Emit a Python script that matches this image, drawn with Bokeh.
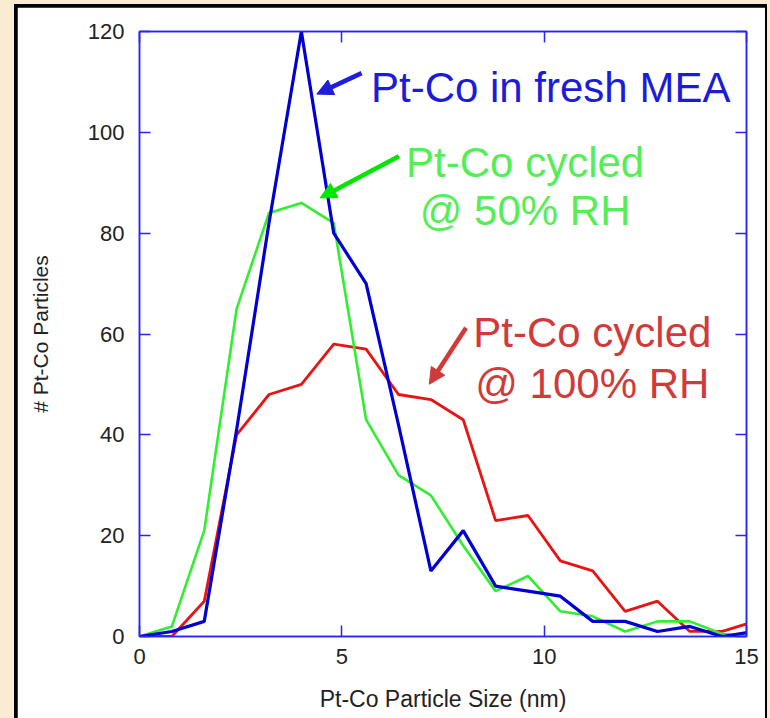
from bokeh.plotting import figure
from bokeh.layouts import column
from bokeh.models import (Range1d, LinearAxis, FixedTicker, Label, Arrow,
                          NormalHead)
from bokeh.embed import file_html
from bokeh.resources import INLINE

# ---- data ----
sizes = [0, 0.8, 1.6, 2.4, 3.2, 4.0, 4.8, 5.6, 6.4, 7.2, 8.0, 8.8, 9.6,
         10.4, 11.2, 12.0, 12.8, 13.6, 14.4, 15.2]
fresh = [0, 1, 3, 41, 82, 120, 80, 70, 42, 13, 21, 10, 9, 8, 3, 3, 1, 2, 0, 1]
rh50 = [0, 2, 21, 65, 84, 86, 82, 43, 32, 28, 18, 9, 12, 5, 4, 1, 3, 3, 0.5, 0]
rh100 = [0, 0, 7, 40, 48, 50, 58, 57, 48, 47, 43, 23, 24, 15, 13, 5, 7, 1, 1, 3]

x_ticks = [0, 5, 10, 15]
y_ticks = [0, 20, 40, 60, 80, 100, 120]

x_label = "Pt-Co Particle Size (nm)"
y_label = "# Pt-Co Particles"

FONT = "Liberation Sans"
FRAME = "#2626EE"
BEIGE = "#F9ECD3"

p = figure(width=748, height=711, output_backend="svg", toolbar_location=None,
           x_range=Range1d(0, 15), y_range=Range1d(0, 120),
           min_border_left=122, min_border_right=19, min_border_top=24,
           min_border_bottom=82, x_axis_label=x_label, y_axis_label=y_label)

p.border_fill_color = "white"
p.background_fill_color = "white"
p.outline_line_color = FRAME
p.outline_line_width = 1.5
p.xgrid.visible = False
p.ygrid.visible = False


def style_axis(ax, ticks, labels=True):
    ax.ticker = FixedTicker(ticks=ticks)
    ax.axis_line_color = FRAME
    ax.axis_line_width = 1.5
    ax.major_tick_line_color = FRAME
    ax.major_tick_line_width = 1.5
    ax.major_tick_in = 11
    ax.major_tick_out = 0
    ax.minor_tick_line_color = None
    ax.major_label_text_font = FONT
    ax.axis_label_text_font = FONT
    ax.axis_label_text_font_style = "normal"
    ax.axis_label_text_color = "#222222"
    if labels:
        ax.major_label_text_font_size = "22px"
        ax.major_label_text_color = "#222222"
    else:
        ax.major_label_text_font_size = "0px"
        ax.major_label_text_color = None
        ax.major_label_standoff = 0


style_axis(p.xaxis[0], x_ticks)
p.xaxis[0].major_label_standoff = 12
p.xaxis[0].axis_label_standoff = 19
p.xaxis[0].axis_label_text_font_size = "23px"

style_axis(p.yaxis[0], y_ticks)
p.yaxis[0].major_label_standoff = 15
p.yaxis[0].axis_label_standoff = 33
p.yaxis[0].axis_label_text_font_size = "21px"

top_ax = LinearAxis()
style_axis(top_ax, x_ticks, labels=False)
p.add_layout(top_ax, "above")
right_ax = LinearAxis()
style_axis(right_ax, y_ticks, labels=False)
p.add_layout(right_ax, "right")

# data lines
p.line(sizes, rh100, line_color="#E81414", line_width=2.8)
p.line(sizes, rh50, line_color="#30EE30", line_width=2.6)
p.line(sizes, fresh, line_color="#0000D2", line_width=3.2)

# annotations
BLUE_T = "#1C1CD8"
GREEN_T = "#55EE55"
GREEN_A = "#00E600"
RED_T = "#D03A3A"

p.add_layout(Label(x=5.72, y=108.8, text="Pt-Co in fresh MEA", text_font=FONT,
                   text_font_size="42px", text_color=BLUE_T,
                   text_align="left", text_baseline="alphabetic"))
p.add_layout(Label(x=9.53, y=94.0, text="Pt-Co cycled", text_font=FONT,
                   text_font_size="42px", text_color=GREEN_T,
                   text_align="center", text_baseline="alphabetic"))
p.add_layout(Label(x=9.53, y=84.4, text="@ 50% RH", text_font=FONT,
                   text_font_size="42px", text_color=GREEN_T,
                   text_align="center", text_baseline="alphabetic"))
p.add_layout(Label(x=11.19, y=60.3, text="Pt-Co cycled", text_font=FONT,
                   text_font_size="42px", text_color=RED_T,
                   text_align="center", text_baseline="alphabetic"))
p.add_layout(Label(x=11.19, y=50.1, text="@ 100% RH", text_font=FONT,
                   text_font_size="42px", text_color=RED_T,
                   text_align="center", text_baseline="alphabetic"))

for (xs, ys, xe, ye, c) in [(5.488, 111.74, 4.381, 107.58, "#1E1EDC"),
                            (6.411, 95.25, 4.463, 86.99, GREEN_A),
                            (8.069, 61.25, 7.161, 50.04, RED_T)]:
    p.add_layout(Arrow(end=NormalHead(size=16, fill_color=c, line_color=c, line_width=1),
                       x_start=xs, y_start=ys, x_end=xe, y_end=ye,
                       line_color=c, line_width=4.5))

inner = column(p, styles={"background-color": "black",
                          "padding": "3px 2px 0px 3px"})
page = column(inner, styles={"background-color": BEIGE,
                             "padding": "4px 3px 0px 14px"})

open("out.html", "w").write(file_html(page, INLINE))
